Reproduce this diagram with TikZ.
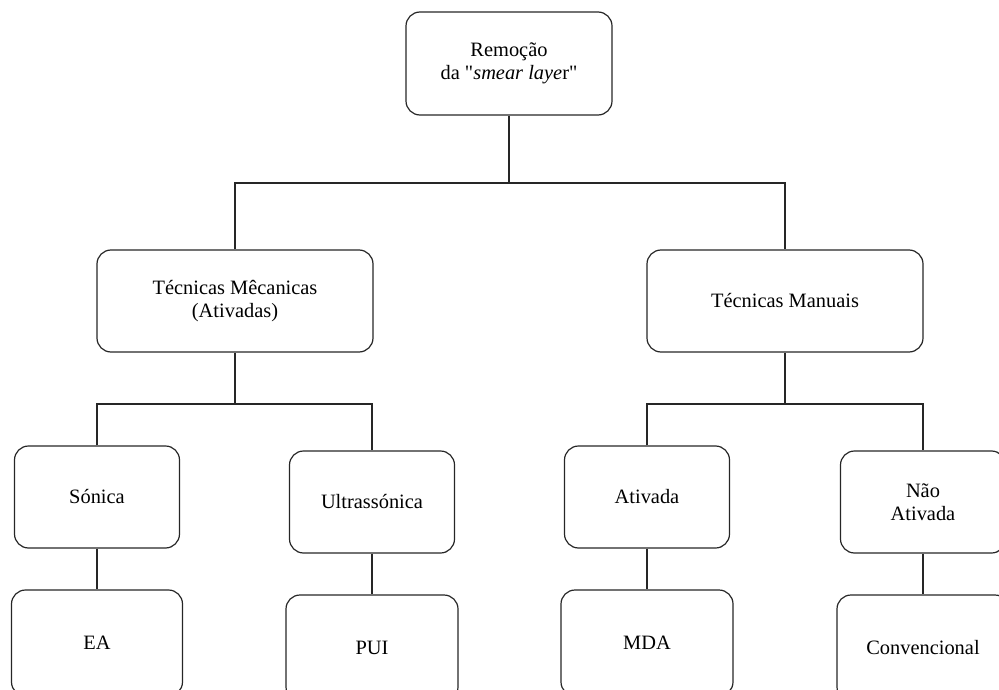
\documentclass[tikz,border=0pt]{standalone}
\usepackage{fontspec}
\setmainfont{Liberation Serif}
\begin{document}
\begin{tikzpicture}[x=1pt,y=-1pt,
  box/.style={draw=black!85, rounded corners=14pt, line width=1.2pt, align=center,
    font=\fontsize{20.4}{23}\selectfont, inner sep=0pt},
  link/.style={draw=black!85, line width=1.2pt}]
\useasboundingbox (0,0) rectangle (999,690);
\clip (0,0) rectangle (999,690);
% level 0
\node[box, minimum width=206pt, minimum height=103pt] (top) at (509,63.5)
  {Remoção\\da \textquotedbl\textit{smear laye}r\textquotedbl};
% level 1
\node[box, minimum width=276pt, minimum height=102pt] (mec) at (235,301)
  {Técnicas Mêcanicas\\(Ativadas)};
\node[box, minimum width=276pt, minimum height=102pt] (man) at (785,301)
  {Técnicas Manuais};
% level 2
\node[box, minimum width=165pt, minimum height=102pt] (son) at (97,497) {Sónica};
\node[box, minimum width=165pt, minimum height=102pt] (ult) at (372,502) {Ultrassónica};
\node[box, minimum width=165pt, minimum height=102pt] (ati) at (647,497) {Ativada};
\node[box, minimum width=165pt, minimum height=102pt] (nat) at (923,502) {Não\\Ativada};
% level 3
\node[box, minimum width=171pt, minimum height=106pt] (ea) at (97,643) {EA};
\node[box, minimum width=172pt, minimum height=106pt] (pui) at (372,648) {PUI};
\node[box, minimum width=172pt, minimum height=106pt] (mda) at (647,643) {MDA};
\node[box, minimum width=172pt, minimum height=106pt] (con) at (923,648) {Convencional};
% junctions
\coordinate (j0) at (509,183);
\coordinate (j1) at (235,404);
\coordinate (j2) at (785,404);
% connectors
\draw[link] (top.south) -- (j0);
\draw[link] (mec.north) |- (j0) -| (man.north);
\draw[link] (mec.south) -- (j1);
\draw[link] (son.north) |- (j1) -| (ult.north);
\draw[link] (man.south) -- (j2);
\draw[link] (ati.north) |- (j2) -| (nat.north);
\draw[link] (son.south) -- (ea.north);
\draw[link] (ult.south) -- (pui.north);
\draw[link] (ati.south) -- (mda.north);
\draw[link] (nat.south) -- (con.north);
\end{tikzpicture}
\end{document}
